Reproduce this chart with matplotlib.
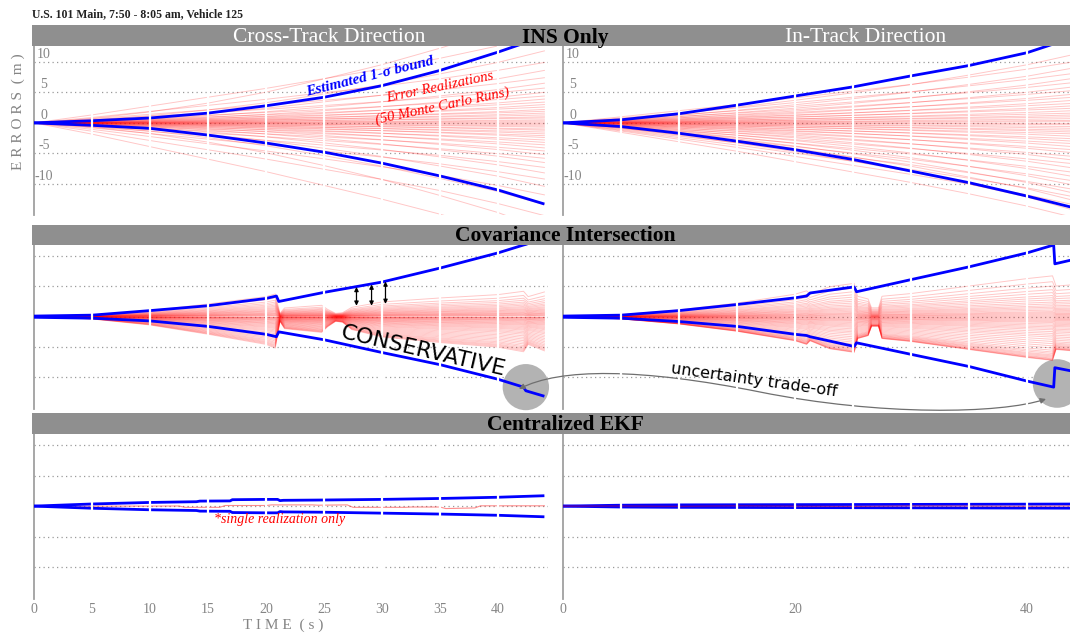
import numpy as np
import matplotlib
matplotlib.use("Agg")
import matplotlib.pyplot as plt
from matplotlib.patches import Ellipse, FancyArrowPatch, Rectangle
from matplotlib.path import Path

plt.rcParams["font.family"] = ["Liberation Serif", "DejaVu Serif"]

# ---------------- labels ----------------
title = "U.S. 101 Main, 7:50 - 8:05 am, Vehicle 125"
row_titles = ["INS Only", "Covariance Intersection", "Centralized EKF"]
col_titles = ["Cross-Track Direction", "In-Track Direction"]
left_xticks = [0, 5, 10, 15, 20, 25, 30, 35, 40]
right_xticks = [0, 20, 40]
yticks = [-10, -5, 0, 5, 10]

# ---------------- INS only ----------------
t_ins = [0, 5, 10, 15, 20, 25, 30, 35, 40, 44]
ins_cross_upper = [0, 0.35, 0.8, 1.6, 2.8, 4.2, 6.1, 8.6, 11.6, 14.2]
ins_cross_lower = [0, -0.4, -0.9, -2.0, -3.3, -4.8, -6.6, -8.7, -11.0, -13.3]
ins_in_upper = [0, 0.5, 1.5, 2.9, 4.4, 5.9, 7.7, 9.4, 11.5, 14.0]
ins_in_lower = [0, -0.6, -1.7, -3.0, -4.4, -6.0, -7.9, -9.8, -12.0, -13.9]
# two growth profiles of the error runs (fraction of the final error)
ins_cross_shape_a = [0, 0.04, 0.10, 0.18, 0.28, 0.40, 0.53, 0.68, 0.84, 1.0]
ins_cross_shape_b = [0, 0.09, 0.19, 0.29, 0.39, 0.50, 0.61, 0.73, 0.87, 1.0]
ins_in_shape_a = [0, 0.06, 0.14, 0.23, 0.33, 0.44, 0.56, 0.70, 0.85, 1.0]
ins_in_shape_b = [0, 0.10, 0.20, 0.30, 0.41, 0.52, 0.63, 0.75, 0.88, 1.0]
# final error of each of the 50 Monte Carlo runs (m)
ins_cross_final = [18.0, 14.5, 11.8, 9.9, 8.6, 7.4, 6.5, 5.7, 5.0, 4.4,
                   3.9, 3.4, 3.0, 2.6, 2.2, 1.9, 1.6, 1.3, 1.0, 0.8,
                   0.5, 0.3, 0.1, -0.1, -0.3, -0.5, -0.7, -1.0, -1.2, -1.5,
                   -1.8, -2.1, -2.4, -2.8, -3.2, -3.6, -4.1, -4.6, -5.2, -5.8,
                   -6.5, -7.3, -8.2, -9.2, -10.4, -11.8, -13.4, -15.2, -17.5, -20.5]
ins_in_final = [11.2, 10.0, 9.0, 8.1, 7.3, 6.6, 5.9, 5.3, 4.7, 4.2,
                3.7, 3.2, 2.8, 2.4, 2.0, 1.6, 1.3, 1.0, 0.7, 0.4,
                0.2, -0.1, -0.3, -0.6, -0.9, -1.2, -1.5, -1.8, -2.2, -2.6,
                -3.0, -3.4, -3.9, -4.4, -4.9, -5.5, -6.1, -6.7, -7.4, -8.1,
                -8.8, -9.5, -10.2, -10.9, -11.5, -12.1, -12.7, -13.4, -14.3, -15.5]

# ---------------- Covariance intersection ----------------
t_ci_cross = [0, 5, 10, 15, 20, 20.9, 21.1, 25, 30, 35, 40, 42.2, 42.4, 44]
ci_cross_upper = [0.1, 0.25, 1.0, 1.8, 3.0, 3.4, 2.5, 4.0, 5.7, 8.0, 10.5, 11.8, 11.9, 13.0]
ci_cross_lower = [-0.1, -0.25, -0.7, -1.6, -2.9, -3.3, -2.5, -3.8, -5.9, -7.9, -10.3, -11.6, -12.2, -13.1]
t_ci_in = [0, 5, 10, 15, 20, 21.0, 21.3, 25.1, 25.3, 30, 35, 40, 42.3, 42.4, 44]
ci_in_upper = [0.1, 0.25, 1.0, 2.0, 3.1, 3.4, 3.9, 4.9, 4.1, 6.1, 8.2, 10.5, 11.8, 8.7, 9.4]
ci_in_lower = [-0.1, -0.25, -0.8, -1.6, -2.9, -3.1, -3.3, -4.9, -4.3, -6.2, -8.2, -10.6, -11.6, -8.4, -9.0]

t_ci_cross_runs = [0, 5, 10, 15, 20, 20.8, 21.2, 21.6, 24.8, 25.3, 26.0, 26.6, 27.4,
                   30, 35, 40, 42.2, 42.6, 44]
ci_cross_shape = [0, 0.25, 0.9, 1.9, 3.0, 3.4, 0.5, 1.3, 1.7, 1.1, 0.5, 0.6, 1.4,
                  2.2, 2.8, 3.3, 3.8, 3.0, 3.7]
t_ci_in_runs = [0, 5, 10, 15, 20, 21.0, 21.3, 23, 25.1, 25.4, 26.3, 26.6, 27.2, 27.5,
                30, 35, 40, 42.2, 42.5, 44]
ci_in_shape = [0, 0.3, 1.0, 2.0, 3.3, 3.8, 3.3, 4.4, 4.9, 3.0, 2.6, 1.3, 1.3, 3.0,
               3.4, 4.5, 5.6, 6.0, 4.5, 4.7]
ci_cross_gain = [1.10, 0.92, 0.80, 0.71, 0.63, 0.56, 0.50, 0.44, 0.39, 0.34,
                 0.30, 0.26, 0.22, 0.18, 0.15, 0.12, 0.09, 0.06, 0.03, 0.0,
                 -0.03, -0.06, -0.09, -0.12, -0.15, -0.18, -0.22, -0.26, -0.30, -0.34,
                 -0.38, -0.43, -0.48, -0.53, -0.58, -0.64, -0.70, -0.76, -0.83, -0.90,
                 -0.97, -1.04, -1.11, -1.18, -1.25, -1.31, -1.37, -1.42, -1.47, -1.52]
ci_in_gain = [1.12, 0.96, 0.84, 0.74, 0.66, 0.58, 0.52, 0.46, 0.40, 0.35,
              0.30, 0.26, 0.22, 0.18, 0.14, 0.11, 0.08, 0.05, 0.02, -0.01,
              -0.04, -0.07, -0.10, -0.13, -0.16, -0.20, -0.24, -0.28, -0.32, -0.36,
              -0.41, -0.46, -0.51, -0.56, -0.62, -0.68, -0.74, -0.80, -0.86, -0.92,
              -0.97, -1.01, -1.05, -1.08, -1.11, -1.14, -1.16, -1.18, -1.19, -1.20]

# ---------------- Centralized EKF ----------------
t_ekf_cross = [0, 5, 10, 14, 14.3, 16.9, 17.1, 20, 21.0, 21.2, 21.5, 25, 30, 35, 40, 44]
ekf_cross_upper = [0, 0.35, 0.6, 0.72, 0.82, 0.85, 1.05, 1.1, 1.1, 0.9, 0.95, 1.0, 1.1, 1.25, 1.45, 1.7]
ekf_cross_lower = [0, -0.35, -0.6, -0.72, -0.82, -0.85, -1.05, -1.1, -1.1, -0.9, -0.95, -1.0, -1.15, -1.3, -1.5, -1.75]
t_ekf_cross_real = [0, 10, 12.5, 13, 16, 16.5, 20, 20.5, 24, 24.5, 27, 27.5,
                    32, 32.5, 35, 35.5, 38, 38.5, 44]
ekf_cross_real = [0, 0, 0.02, -0.2, -0.2, 0.1, 0.1, 0.2, 0.2, 0.15, 0.2, -0.2,
                  -0.2, -0.15, -0.15, -0.4, -0.3, 0.05, 0.05]
t_ekf_in = [0, 5, 10, 15, 20, 25, 30, 35, 40, 44]
ekf_in_upper = [0, 0.15, 0.2, 0.22, 0.24, 0.26, 0.28, 0.3, 0.32, 0.34]
ekf_in_lower = [0, -0.15, -0.2, -0.22, -0.24, -0.26, -0.28, -0.3, -0.32, -0.34]
ekf_in_real = [0, 0.02, -0.03, 0.05, 0.0, -0.05, 0.04, 0.02, -0.02, 0.03]

# ---------------- layout (pixels) ----------------
W, H = 1070, 635
fig = plt.figure(figsize=(W / 100, H / 100), dpi=100)


def frac(x0, y0, x1, y1):
    return [x0 / W, 1 - y1 / H, (x1 - x0) / W, (y1 - y0) / H]


def fx(x):
    return x / W


def fy(y):
    return 1 - y / H


PX_PER_S = 11.6
col_px = [(34, 548), (563, 1070)]
row_px = [(46, 215), (245, 409), (434, 599)]
strip_px = [(25, 46), (225, 245), (413, 434)]
row_ylim = [(-15.1, 12.6), (-15.2, 11.8), (-15.2, 11.8)]

GRID = "#9a9a9a"
TXT = "#858585"
STRIP = "#8f8f8f"
BLUE = "#0000ff"
RED = "#ff0000"

axes = {}
for r, (y0, y1) in enumerate(row_px):
    for c, (x0, x1) in enumerate(col_px):
        ax = fig.add_axes(frac(x0, y0, x1, y1))
        ax.set_xlim(0, (x1 - x0) / PX_PER_S)
        ax.set_ylim(*row_ylim[r])
        for side in ("top", "right", "bottom"):
            ax.spines[side].set_visible(False)
        ax.spines["left"].set_color("#a0a0a0")
        ax.spines["left"].set_linewidth(1.3)
        ax.set_yticks([])
        ax.tick_params(axis="x", length=0, pad=3, labelsize=10, labelcolor=TXT)
        if r == 2:
            ticks = left_xticks if c == 0 else right_xticks
            ax.set_xticks(ticks)
            ax.set_xticklabels([str(v) for v in ticks])
        else:
            ax.set_xticks([])
        for yv in yticks:
            ax.axhline(yv, color=GRID, lw=0.9, ls=(0, (1, 2.6)), zorder=0.5)
        for xv in range(5, 45, 5):
            ax.axvline(xv, color="white", lw=1.6, zorder=6)
        if r == 0:
            for yv in yticks:
                ax.text(10 / PX_PER_S, yv + 0.2, str(yv), ha="center", va="bottom",
                        fontsize=10, color=TXT, zorder=2)
        axes[(r, c)] = ax

# gray strips with facet titles
for r, (s0, s1) in enumerate(strip_px):
    fig.add_artist(Rectangle((fx(32), fy(s1)), (1070 - 32) / W, (s1 - s0) / H,
                             transform=fig.transFigure, facecolor=STRIP,
                             edgecolor="none", zorder=1))
    fig.text(fx(565), fy(s1 - 3.5), row_titles[r], ha="center", va="baseline",
             fontsize=15.5, fontweight="bold", color="black", zorder=2)
fig.text(fx(329), fy(42.5), col_titles[0], ha="center", va="baseline",
         fontsize=15.5, color="white", zorder=2)
fig.text(fx(866), fy(42.5), col_titles[1], ha="center", va="baseline",
         fontsize=15.5, color="white", zorder=2)

# title and axis labels
fig.text(fx(32), fy(14), title, ha="left", va="center", fontsize=8.5,
         fontweight="bold", color="#222222")
fig.text(fx(18), fy(112), "E R R O R S  ( m )", rotation=90, ha="center",
         va="center", fontsize=11, color=TXT)
fig.text(fx(283), fy(625), "T I M E  ( s )", ha="center", va="center",
         fontsize=11, color=TXT)

red_kw = dict(color=RED, lw=0.7, alpha=0.22, zorder=3)
blue_kw = dict(color=BLUE, lw=2.0, zorder=4, solid_capstyle="butt")

# ---- INS only ----
ax = axes[(0, 0)]
for i, f in enumerate(ins_cross_final):
    shape = ins_cross_shape_a if i % 2 == 0 else ins_cross_shape_b
    ax.plot(t_ins, np.multiply(shape, f), **red_kw)
ax.plot(t_ins, ins_cross_upper, **blue_kw)
ax.plot(t_ins, ins_cross_lower, **blue_kw)
ax.text(fx(370), fy(77), "Estimated 1-σ bound", transform=fig.transFigure,
        rotation=14, rotation_mode="anchor", ha="center", va="center",
        fontsize=11, fontweight="bold", fontstyle="italic", color=BLUE, zorder=7)
ax.text(fx(440), fy(87), "Error Realizations", transform=fig.transFigure,
        rotation=12, rotation_mode="anchor", ha="center", va="center",
        fontsize=10.5, fontstyle="italic", color=RED, zorder=7)
ax.text(fx(442), fy(106), "(50 Monte Carlo Runs)", transform=fig.transFigure,
        rotation=12, rotation_mode="anchor", ha="center", va="center",
        fontsize=10.5, fontstyle="italic", color=RED, zorder=7)

ax = axes[(0, 1)]
for i, f in enumerate(ins_in_final):
    shape = ins_in_shape_a if i % 2 == 0 else ins_in_shape_b
    ax.plot(t_ins, np.multiply(shape, f), **red_kw)
ax.plot(t_ins, ins_in_upper, **blue_kw)
ax.plot(t_ins, ins_in_lower, **blue_kw)

# ---- Covariance intersection ----
ax = axes[(1, 0)]
for g in ci_cross_gain:
    ax.plot(t_ci_cross_runs, np.multiply(ci_cross_shape, g), **red_kw)
ax.plot(t_ci_cross, ci_cross_upper, **blue_kw)
ax.plot(t_ci_cross, ci_cross_lower, **blue_kw)
ax.add_patch(Ellipse((42.4, -11.6), 4.0, 7.6, facecolor="#b3b3b3",
                     edgecolor="none", zorder=2.5, clip_on=False))
for tx, ytop, ybot in [(27.8, 4.9, 1.8), (29.1, 5.3, 1.8), (30.3, 5.8, 2.1)]:
    ax.annotate("", xy=(tx, ytop), xytext=(tx, ybot),
                arrowprops=dict(arrowstyle="<|-|>", color="black", lw=0.9,
                                mutation_scale=6, shrinkA=0, shrinkB=0),
                zorder=5)
ax.text(fx(423), fy(351), "CONSERVATIVE", transform=fig.transFigure,
        rotation=-13, rotation_mode="anchor", ha="center", va="center",
        fontsize=16, family="DejaVu Sans", color="black", zorder=7)

ax = axes[(1, 1)]
for g in ci_in_gain:
    ax.plot(t_ci_in_runs, np.multiply(ci_in_shape, g), **red_kw)
ax.plot(t_ci_in, ci_in_upper, **blue_kw)
ax.plot(t_ci_in, ci_in_lower, **blue_kw)
ax.add_patch(Ellipse((42.6, -11.0), 4.2, 8.0, facecolor="#b3b3b3",
                     edgecolor="none", zorder=2.5, clip_on=False))
ax.text(fx(754), fy(380), "uncertainty trade-off", transform=fig.transFigure,
        rotation=-8, rotation_mode="anchor", ha="center", va="center",
        fontsize=11.5, family="DejaVu Sans", color="black", zorder=7)
verts = [(519, 389), (560, 368), (640, 368), (760, 392),
         (880, 416), (1000, 414), (1046, 399)]
codes = [Path.MOVETO] + [Path.CURVE4] * 6
arrow_path = Path([(fx(x), fy(y)) for x, y in verts], codes)
ax.add_artist(FancyArrowPatch(path=arrow_path, arrowstyle="<|-|>", mutation_scale=8,
                              color="#6f6f6f", lw=0.9, transform=fig.transFigure,
                              clip_on=False, zorder=5))

# ---- Centralized EKF ----
ax = axes[(2, 0)]
ax.plot(t_ekf_cross_real, ekf_cross_real, color=RED, lw=0.8, alpha=0.45, zorder=3)
ax.plot(t_ekf_cross, ekf_cross_upper, **blue_kw)
ax.plot(t_ekf_cross, ekf_cross_lower, **blue_kw)
ax.text(fx(280), fy(519), "*single realization only", transform=fig.transFigure,
        ha="center", va="center", fontsize=10, fontstyle="italic", color=RED, zorder=7)

ax = axes[(2, 1)]
ax.plot(t_ekf_in, ekf_in_upper, **blue_kw)
ax.plot(t_ekf_in, ekf_in_lower, **blue_kw)
ax.plot(t_ekf_in, ekf_in_real, color=RED, lw=0.8, alpha=0.45, zorder=4.5)

fig.savefig("out.png", dpi=100)
